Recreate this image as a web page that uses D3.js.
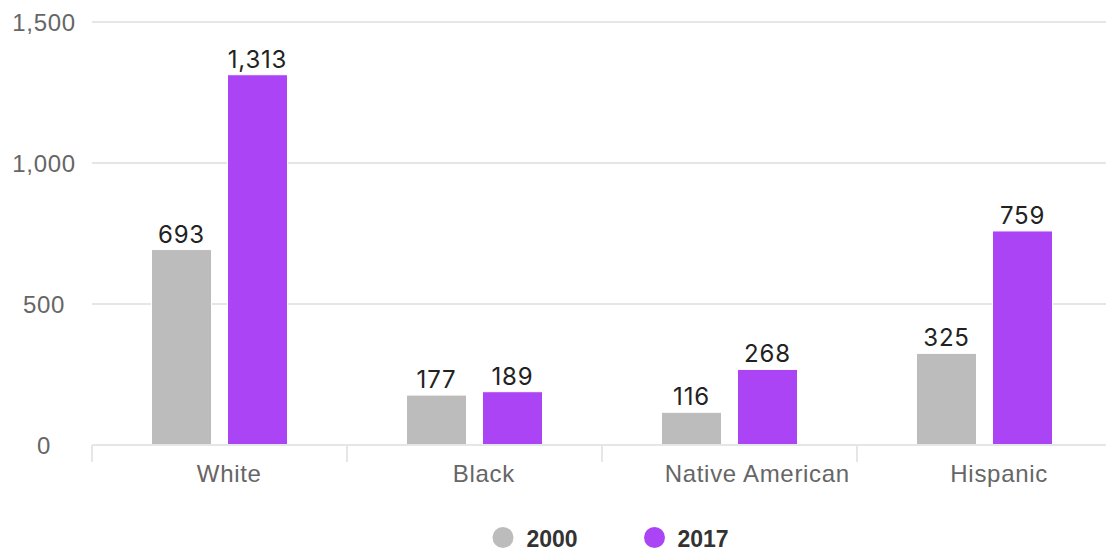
<!DOCTYPE html>
<html>
<head>
<meta charset="utf-8">
<script src="https://cdn.jsdelivr.net/npm/d3@7"></script>
<style>
  html, body { margin: 0; padding: 0; background: #fff; }
  svg { display: block; }
</style>
</head>
<body>
<svg id="chart" width="1106" height="550"></svg>
<script>
// Population figures (thousands) by group, 2000 vs 2017
const categories = ["White", "Black", "Native American", "Hispanic"];
const seriesNames = ["2000", "2017"];
const values2000 = [693, 177, 116, 325];
const values2017 = [1313, 189, 268, 759];
const yTicks = [0, 500, 1000, 1500];

const colors = { "2000": "#bcbcbc", "2017": "#aa44f5" };
const W = 1106, H = 550;
const plot = { left: 92, right: 1112, top: 22, bottom: 445 };
const axisFont = "Liberation Sans, Arial, sans-serif";

const svg = d3.select("#chart");

const x = d3.scaleBand().domain(categories).range([plot.left, plot.right]).padding(0);
const y = d3.scaleLinear().domain([0, 1500]).range([plot.bottom, plot.top]);

const barW = 60, barGap = 16;
const bx = k => x.bandwidth() / 2 + (k === seriesNames[0] ? -barGap / 2 - barW : barGap / 2);

// Horizontal gridlines
svg.append("g")
  .selectAll("line")
  .data(yTicks.filter(d => d > 0))
  .join("line")
  .attr("x1", plot.left).attr("x2", W)
  .attr("y1", d => y(d)).attr("y2", d => y(d))
  .attr("stroke", "#e6e6e6").attr("stroke-width", 2);

// Y axis labels
const yAxis = d3.axisLeft(y).tickValues(yTicks).tickSize(0).tickFormat(d3.format(","));
const gy = svg.append("g").attr("transform", `translate(44,0)`).call(yAxis);
gy.select(".domain").remove();
gy.selectAll("text")
  .attr("x", 0).attr("dy", "0.36em")
  .attr("text-anchor", "middle")
  .attr("font-family", axisFont)
  .attr("font-size", 24).attr("letter-spacing", 0.7)
  .attr("fill", "#666");

// Bars
const rows = categories.map((c, i) => ({ cat: c, vals: [
  { key: seriesNames[0], v: values2000[i] },
  { key: seriesNames[1], v: values2017[i] }
]}));

const groups = svg.append("g").selectAll("g")
  .data(rows).join("g")
  .attr("transform", d => `translate(${x(d.cat)},0)`);

groups.selectAll("rect")
  .data(d => d.vals).join("rect")
  .attr("x", d => bx(d.key))
  .attr("width", barW)
  .attr("y", d => y(d.v))
  .attr("height", d => y(0) - y(d.v))
  .attr("fill", d => colors[d.key])
  .attr("stroke", "#fff").attr("stroke-width", 1);

groups.selectAll("text.val")
  .data(d => d.vals).join("text")
  .attr("class", "val")
  .attr("x", d => bx(d.key) + barW / 2)
  .attr("y", d => y(d.v) - 7)
  .attr("text-anchor", "middle")
  .attr("font-family", "Inter, sans-serif")
  .attr("font-size", 24).attr("letter-spacing", 0.8)
  .attr("fill", "#222")
  .text(d => d3.format(",")(d.v));

// X axis baseline and ticks
const xAxis = d3.axisBottom(x).tickSize(0).tickSizeOuter(0);
const gx = svg.append("g").attr("transform", `translate(0,${plot.bottom})`).call(xAxis);
gx.select(".domain").remove();
svg.append("line")
  .attr("x1", plot.left).attr("x2", W)
  .attr("y1", plot.bottom).attr("y2", plot.bottom)
  .attr("stroke", "#e6e6e6").attr("stroke-width", 2);
svg.append("g").selectAll("line")
  .data(categories).join("line")
  .attr("x1", d => x(d)).attr("x2", d => x(d))
  .attr("y1", plot.bottom).attr("y2", plot.bottom + 17)
  .attr("stroke", "#e6e6e6").attr("stroke-width", 2);

gx.selectAll("text")
  .attr("font-family", axisFont)
  .attr("font-size", 24).attr("letter-spacing", 0.7)
  .attr("fill", "#666")
  .attr("y", 36.7).attr("dy", 0)
  .attr("text-anchor", "middle")
  .each(function () {
    const w = this.getComputedTextLength();
    d3.select(this).attr("dx", 0.15 * w);
  });

// Legend
const legend = svg.append("g").attr("transform", `translate(0,537.5)`);
const legendItems = [
  { key: seriesNames[0], cx: 503, tx: 526.5 },
  { key: seriesNames[1], cx: 654.5, tx: 677.5 }
];
legend.selectAll("circle").data(legendItems).join("circle")
  .attr("cx", d => d.cx).attr("cy", 0).attr("r", 10.5)
  .attr("fill", d => colors[d.key]);
legend.selectAll("text").data(legendItems).join("text")
  .attr("x", d => d.tx).attr("y", 9)
  .attr("font-family", axisFont)
  .attr("font-size", 23).attr("font-weight", "bold")
  .attr("fill", "#333")
  .text(d => d.key);
</script>
</body>
</html>
